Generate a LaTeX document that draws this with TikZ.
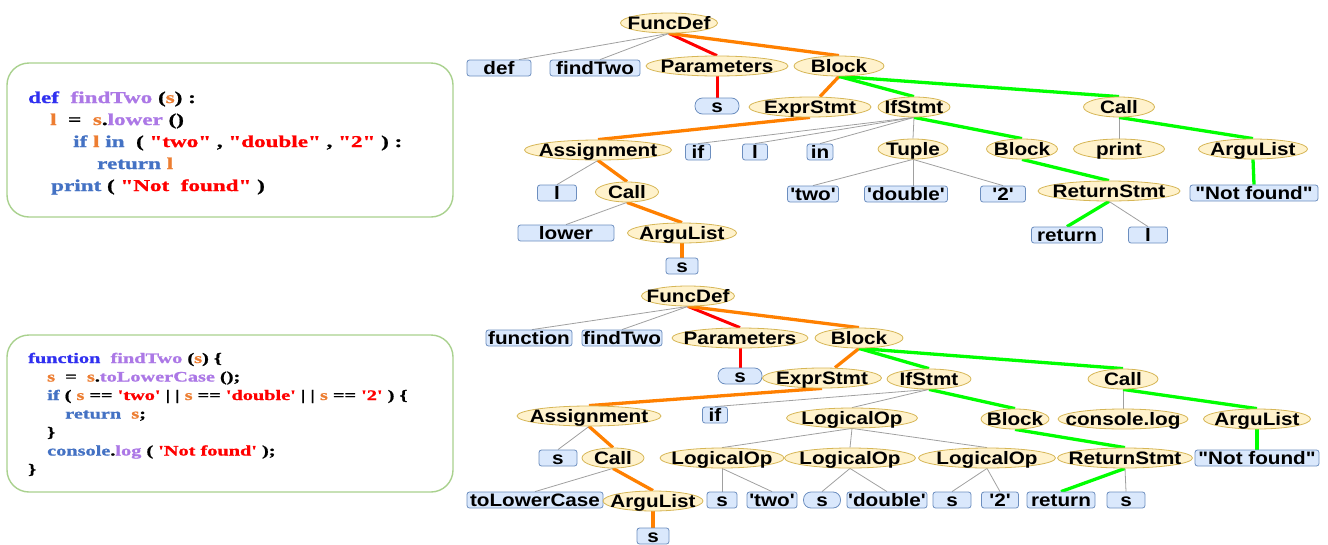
\documentclass[tikz,border=0pt]{standalone}
\usepackage{fontspec}
\usetikzlibrary{shapes.geometric,backgrounds}
\newfontfamily\treefont{Liberation Sans}[Ligatures=TeXOff,FakeStretch=1.15,BoldFont={Liberation Sans Bold}]
\newfontfamily\codefont{Liberation Serif Bold}[Ligatures=TeXOff,FakeStretch=1.4,FakeBold=1.2]
\definecolor{ellF}{HTML}{FFF2CC}
\definecolor{ellD}{HTML}{D6B656}
\definecolor{boxF}{HTML}{DAE8FC}
\definecolor{boxD}{HTML}{6C8EBF}
\definecolor{cblue}{HTML}{3030F0}
\definecolor{kblue}{HTML}{4472C4}
\definecolor{purp}{HTML}{AC78E6}
\definecolor{orng}{HTML}{ED7D31}
\definecolor{sred}{HTML}{FF0000}
\definecolor{frameG}{HTML}{A9D18E}
\definecolor{eGray}{HTML}{A0A0A0}
\definecolor{eRed}{HTML}{FF0000}
\definecolor{eOrange}{HTML}{FF8000}
\definecolor{eGreen}{HTML}{00FF00}
\newcommand{\Bl}[1]{\textcolor{cblue}{#1}}
\newcommand{\Kb}[1]{\textcolor{kblue}{#1}}
\newcommand{\Pu}[1]{\textcolor{purp}{#1}}
\newcommand{\Or}[1]{\textcolor{orng}{#1}}
\newcommand{\Rd}[1]{\textcolor{sred}{#1}}
\tikzset{
  treetext/.style={inner sep=0pt, text height=13pt, text depth=0pt,
    font=\treefont\bfseries\fontsize{18}{20}\selectfont,
    execute at begin node={\hbox to 0pt\bgroup\hss},
    execute at end node={\hss\egroup}},
  ell/.style={ellipse, draw=ellD, fill=ellF, line width=0.8pt, treetext, minimum height=20pt},
  tbox/.style={rectangle, rounded corners=2.5pt, draw=boxD, fill=boxF, line width=0.8pt,
    treetext, minimum height=16pt},
  pill/.style={tbox, rounded corners=7.5pt},
  gl/.style={draw=eGray, line width=0.8pt},
  rl/.style={draw=eRed, line width=3pt},
  ol/.style={draw=eOrange, line width=3.3pt},
  gr/.style={draw=eGreen, line width=3.3pt},
  codeframe/.style={draw=frameG, line width=1.4pt, rounded corners=22pt, fill=white},
  codeA/.style={anchor=base west, inner sep=0pt, font=\codefont\fontsize{16.5}{18}\selectfont},
  codeB/.style={anchor=base west, inner sep=0pt, font=\codefont\fontsize{14.5}{16}\selectfont}
}
\begin{document}
\begin{tikzpicture}[x=1pt,y=-1pt]
\useasboundingbox (0,0) rectangle (1328,544);
% ---------- code boxes ----------
\draw[codeframe] (7,63) rectangle (453,217);
\node[codeA] (pa1) at (28,103) {\Bl{def}~~\Pu{findTwo} (\Or{s}) :};
\node[codeA] (pa2) at (50,125) {\Or{l} ~= ~\Or{s}.\Pu{lower} ()};
\node[codeA] (pa3) at (73,147) {\Kb{if} \Or{l} \Kb{in} ~( \Rd{"two"} , \Rd{"double"} , \Rd{"2"} ) :};
\node[codeA] (pa4) at (97,169) {\Kb{return} \Or{l}};
\node[codeA] (pa5) at (51,191) {\Kb{print} ( \Rd{"Not~~found"} )};

\draw[codeframe] (7,335) rectangle (453,492);
\node[codeB] (pb1) at (28,363) {\Bl{function}~~\Pu{findTwo} (\Or{s}) \{};
\node[codeB] (pb2) at (47,381.5) {\Or{s} ~= ~\Or{s}.\Pu{toLowerCase} ();};
\node[codeB] (pb3) at (47,400) {\Kb{if} ( \Or{s} == \Rd{'two'} |~| \Or{s} == \Rd{'double'} |~| \Or{s} == \Rd{'2'} ) \{};
\node[codeB] (pb4) at (65,418.5) {\Kb{return} ~\Or{s};};
\node[codeB] (pb5) at (47,437) {\}};
\node[codeB] (pb6) at (47,455.5) {\Kb{console}.\Pu{log} ( \Rd{'Not found'} );};
\node[codeB] (pb7) at (28,474) {\}};

% ---------- top tree ----------
\node[ell, minimum width=97pt] (f1) at (669,23) {FuncDef};
\node[tbox, minimum width=64pt] (tdef) at (499,68) {def};
\node[tbox, minimum width=90pt] (tfind) at (595,68) {findTwo};
\node[ell, minimum width=142pt] (tpar) at (717,66) {Parameters};
\node[ell, minimum width=90pt] (tblk) at (839,66) {Block};
\node[pill, minimum width=44pt] (ts) at (717,106) {s};
\node[ell, minimum width=122pt] (texpr) at (810,107) {ExprStmt};
\node[ell, minimum width=72pt] (tif) at (914,107) {IfStmt};
\node[ell, minimum width=71pt] (tcall) at (1119,107) {Call};
\node[ell, minimum width=147pt] (tasg) at (598,150) {Assignment};
\node[tbox, minimum width=25pt] (tifk) at (698,152) {if};
\node[tbox, minimum width=25pt] (tl) at (755,152) {l};
\node[tbox, minimum width=26pt] (tin) at (820,152) {in};
\node[ell, minimum width=70pt] (ttup) at (913,149) {Tuple};
\node[ell, minimum width=71pt] (tblk2) at (1022,149) {Block};
\node[ell, minimum width=91pt] (tprint) at (1119,149) {print};
\node[ell, minimum width=109pt] (targ) at (1253,149) {ArguList};
\node[tbox, minimum width=39pt] (tl2) at (557,193) {l};
\node[ell, minimum width=63pt] (tcall2) at (627,192) {Call};
\node[tbox, minimum width=51pt] (ttwo) at (813,194) {'two'};
\node[tbox, minimum width=83pt] (tdbl) at (906,194) {'double'};
\node[tbox, minimum width=45pt] (t2) at (1003,194) {'2'};
\node[ell, minimum width=142pt] (tret) at (1109,191) {ReturnStmt};
\node[tbox, minimum width=128pt] (tnf) at (1254,193) {"Not found"};
\node[tbox, minimum width=96pt] (tlower) at (566,233) {lower};
\node[ell, minimum width=109pt] (targ2) at (682,233) {ArguList};
\node[tbox, minimum width=71pt] (treturn) at (1067,235) {return};
\node[tbox, minimum width=39pt] (tl3) at (1148,235) {l};
\node[tbox, minimum width=32pt] (ts2) at (682,266) {s};

% ---------- bottom tree ----------
\node[ell, minimum width=93pt] (bf) at (688,296) {FuncDef};
\node[tbox, minimum width=86pt] (bfn) at (529,338) {function};
\node[tbox, minimum width=80pt] (bfind) at (622,338) {findTwo};
\node[ell, minimum width=136pt] (bpar) at (740,338) {Parameters};
\node[ell, minimum width=88pt] (bblk) at (859,338) {Block};
\node[pill, minimum width=44pt] (bs) at (740,376) {s};
\node[ell, minimum width=119pt] (bexpr) at (822,378) {ExprStmt};
\node[ell, minimum width=84pt] (bif) at (929,379) {IfStmt};
\node[ell, minimum width=70pt] (bcall) at (1123,379) {Call};
\node[ell, minimum width=144pt] (basg) at (589,416) {Assignment};
\node[tbox, minimum width=25pt] (bifk) at (715,415) {if};
\node[ell, minimum width=131pt] (blo) at (852,418) {LogicalOp};
\node[ell, minimum width=68pt] (bblk2) at (1015,419) {Block};
\node[ell, minimum width=130pt] (bcl) at (1123,419) {console.log};
\node[ell, minimum width=107pt] (barg) at (1257,419) {ArguList};
\node[tbox, minimum width=38pt] (bs2) at (558,458) {s};
\node[ell, minimum width=62pt] (bcall2) at (613,458) {Call};
\node[ell, minimum width=124pt] (blo1) at (722,458) {LogicalOp};
\node[ell, minimum width=131pt] (blo2) at (850,458) {LogicalOp};
\node[ell, minimum width=137pt] (blo3) at (987,458) {LogicalOp};
\node[ell, minimum width=135pt] (bret) at (1125,458) {ReturnStmt};
\node[tbox, minimum width=124pt] (bnf) at (1257,458) {"Not found"};
\node[tbox, minimum width=136pt] (btlc) at (535,500) {toLowerCase};
\node[ell, minimum width=100pt] (barg2) at (653,501) {ArguList};
\node[tbox, minimum width=30pt] (bs3) at (722,500) {s};
\node[tbox, minimum width=50pt] (btwo) at (772,500) {'two'};
\node[pill, minimum width=37pt] (bs4) at (822,500) {s};
\node[tbox, minimum width=80pt] (bdbl) at (887,500) {'double'};
\node[tbox, minimum width=38pt] (bs5) at (952,500) {s};
\node[tbox, minimum width=37pt] (b2) at (1000,500) {'2'};
\node[tbox, minimum width=68pt] (breturn) at (1061,500) {return};
\node[tbox, minimum width=38pt] (bs6) at (1126,500) {s};
\node[tbox, minimum width=32pt] (bs7) at (653,536) {s};

\begin{scope}[on background layer]
% top edges
\draw[gl] (f1.south) -- ([xshift=20pt]tdef.north);
\draw[gl] (f1.south) -- ([xshift=5pt]tfind.north);
\draw[rl] (f1.south) -- (tpar.north);
\draw[ol] (f1.south) -- (tblk.north);
\draw[rl] (tpar.south) -- (ts.north);
\draw[ol] (tblk.south) -- ([xshift=10pt]texpr.north);
\draw[gr] (tblk.south) -- (tif.north);
\draw[gr] (tblk.south) -- (tcall.north);
\draw[ol] (texpr.south) -- (tasg.north);
\draw[gl] (tif.south) -- (tifk.north);
\draw[gl] (tif.south) -- (tl.north);
\draw[gl] (tif.south) -- (tin.north);
\draw[gl] (tif.south) -- (ttup.north);
\draw[gr] (tif.south) -- (tblk2.north);
\draw[gl] (tcall.south) -- (tprint.north);
\draw[gr] (tcall.south) -- (targ.north);
\draw[gl] (tasg.south) -- (tl2.north);
\draw[ol] (tasg.south) -- (tcall2.north);
\draw[gl] (ttup.south) -- (ttwo.north);
\draw[gl] (ttup.south) -- (tdbl.north -| ttup.south);
\draw[gl] (ttup.south) -- (t2.north);
\draw[gr] (tblk2.south) -- (tret.north);
\draw[gr] (targ.south) -- (tnf.north);
\draw[gl] (tcall2.south) -- (tlower.north);
\draw[ol] (tcall2.south) -- (targ2.north);
\draw[gr] (tret.south) -- (treturn.north);
\draw[gl] (tret.south) -- (tl3.north);
\draw[ol] (targ2.south) -- (ts2.north);
% bottom edges
\draw[gl] (bf.south) -- ([xshift=3pt]bfn.north);
\draw[gl] (bf.south) -- (bfind.north);
\draw[rl] (bf.south) -- (bpar.north);
\draw[ol] (bf.south) -- (bblk.north);
\draw[rl] (bpar.south) -- (bs.north);
\draw[ol] (bblk.south) -- ([xshift=13pt]bexpr.north);
\draw[gr] (bblk.south) -- (bif.north);
\draw[gr] (bblk.south) -- (bcall.north);
\draw[ol] (bexpr.south) -- (basg.north);
\draw[gl] (bif.south) -- (bifk.north);
\draw[gl] (bif.south) -- (blo.north);
\draw[gr] (bif.south) -- (bblk2.north);
\draw[gl] (bcall.south) -- (bcl.north);
\draw[gr] (bcall.south) -- (barg.north);
\draw[gl] (basg.south) -- (bs2.north);
\draw[ol] (basg.south) -- (bcall2.north);
\draw[gl] (blo.south) -- (blo1.north);
\draw[gl] (blo.south) -- (blo2.north);
\draw[gl] (blo.south) -- (blo3.north);
\draw[gr] (bblk2.south) -- (bret.north);
\draw[gr] (barg.south) -- (bnf.north);
\draw[gl] (bcall2.south) -- (btlc.north);
\draw[ol] (bcall2.south) -- (barg2.north);
\draw[gl] (blo1.south) -- (bs3.north);
\draw[gl] (blo1.south) -- (btwo.north);
\draw[gl] (blo2.south) -- (bs4.north);
\draw[gl] (blo2.south) -- (bdbl.north);
\draw[gl] (blo3.south) -- (bs5.north);
\draw[gl] (blo3.south) -- (b2.north);
\draw[gr] (bret.south) -- (breturn.north);
\draw[gl] (bret.south) -- (bs6.north);
\draw[ol] (barg2.south) -- (bs7.north);
\end{scope}
\end{tikzpicture}
\end{document}
